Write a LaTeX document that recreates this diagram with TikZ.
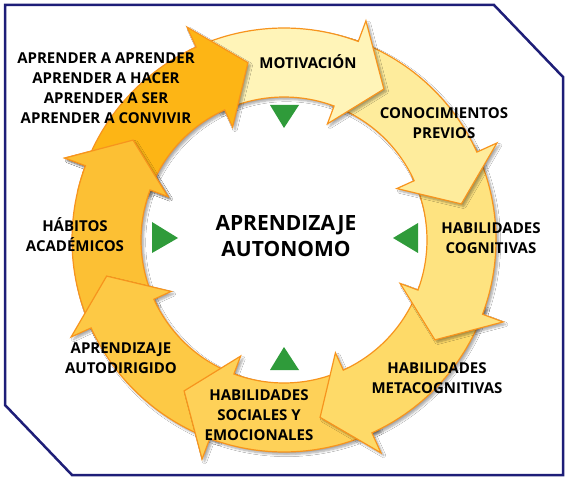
\documentclass[tikz,border=0pt]{standalone}
\usepackage{fontspec}
\setmainfont{Open Sans}
\usetikzlibrary{shadows.blur}
\definecolor{navy}{HTML}{1E1E78}
\definecolor{rim}{HTML}{F7941D}
\definecolor{leaf}{HTML}{2F9B3A}
% band colours, from APRENDER A APRENDER round clockwise
\definecolor{c0}{HTML}{FDB515}
\definecolor{c1}{HTML}{FFF4B8}
\definecolor{c2}{HTML}{FEEC9C}
\definecolor{c3}{HTML}{FEE380}
\definecolor{c4}{HTML}{FEDA68}
\definecolor{c5}{HTML}{FED158}
\definecolor{c6}{HTML}{FDC945}
\definecolor{c7}{HTML}{FCC034}
\tikzset{
  lbl/.style={font=\bfseries\fontsize{15}{20}\selectfont, align=center},
  mid/.style={font=\bfseries\fontsize{21}{26}\selectfont, align=center},
  soft/.style={blur shadow={shadow xshift=2.5pt, shadow yshift=-2.5pt, shadow blur steps=6, shadow opacity=35}},
  band/.style={draw=rim, line width=1.2pt, line join=miter, soft},
  edge/.style={draw=rim, line width=1.2pt, line join=miter},
  tri/.style={fill=leaf}
}
\newcommand{\ringarrow}[1]{%
  \pgfmathsetmacro\t{101.5-45*#1}
  \pgfmathsetmacro\b{\t+13}
  \pgfmathsetmacro\e{\t+60}
  \draw[band, fill=c#1] (\e:212) arc[start angle=\e, end angle=\b, radius=212]
    -- (\b:234) -- (\t:181) -- (\b:124) -- (\b:143)
    arc[start angle=\b, end angle=\e, radius=143] -- cycle;
}
\begin{document}
\begin{tikzpicture}[x=1pt,y=1pt]
  \useasboundingbox (0,0) rectangle (568,480);
  \draw[navy, line width=2.5pt, fill=white] (5,475) -- (494,475) -- (563,403)
    -- (563,5) -- (72,5) -- (5,75) -- cycle;
  \begin{scope}[shift={(284,240)}]
    \foreach \k in {7,6,...,0} {\ringarrow{\k}}
    % head of the last arrow back over the tail of the first
    \fill[c7, soft] (159.5:234) -- (146.5:181) -- (159.5:124) -- cycle;
    \fill[c7] (167:212) arc[start angle=167, end angle=159.5, radius=212]
      -- (159.5:234) -- (146.5:181) -- (159.5:124) -- (159.5:143)
      arc[start angle=159.5, end angle=167, radius=143] -- cycle;
    \draw[edge] (167:212) arc[start angle=167, end angle=159.5, radius=212]
      -- (159.5:234) -- (146.5:181) -- (159.5:124) -- (159.5:143)
      arc[start angle=159.5, end angle=167, radius=143];
  \end{scope}
  % green pointers
  \fill[tri] (270,375) -- (299,375) -- (284,352) -- cycle;
  \fill[tri] (418,257) -- (418,227) -- (393,242) -- cycle;
  \fill[tri] (270,110) -- (299,110) -- (284,133) -- cycle;
  \fill[tri] (152,258) -- (152,227) -- (178,242) -- cycle;
  % labels
  \node[mid] (centre) at (286,244) {APRENDIZAJE\\AUTONOMO};
  \node[lbl] (aprender) at (106,392) {APRENDER A APRENDER\\APRENDER A HACER\\APRENDER A SER\\APRENDER A CONVIVIR};
  \node[lbl] (motivacion) at (308,418) {MOTIVACIÓN};
  \node[lbl] (previos) at (444,357) {CONOCIMIENTOS\\PREVIOS};
  \node[lbl] (cognitivas) at (491,242) {HABILIDADES\\COGNITIVAS};
  \node[lbl] (metacog) at (437,102) {HABILIDADES\\METACOGNITIVAS};
  \node[lbl] (sociales) at (259,65) {HABILIDADES\\SOCIALES Y\\EMOCIONALES};
  \node[lbl] (autodir) at (121,122) {APRENDIZAJE\\AUTODIRIGIDO};
  \node[lbl] (habitos) at (75,245) {HÁBITOS\\ACADÉMICOS};
\end{tikzpicture}
\end{document}
